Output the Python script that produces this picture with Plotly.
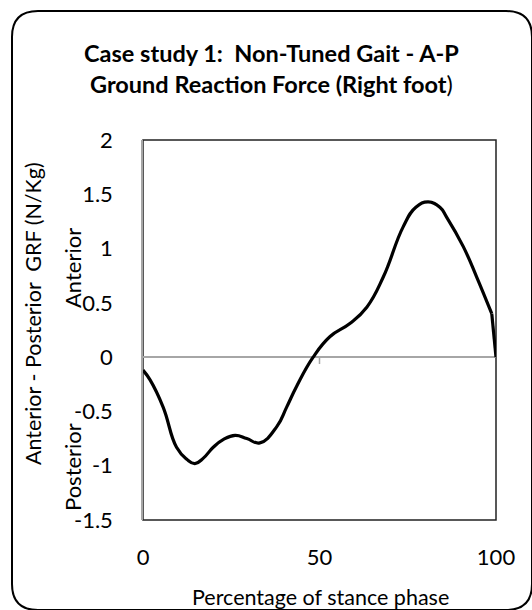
import plotly.graph_objects as go

# Data
stance_pct = [0, 2.0, 5.7, 9.5, 12.4, 14.7, 17.1, 19.9, 22.7, 26.1, 29.4, 33.1, 37.9,
              40.7, 43.5, 48.2, 53.0, 58.6, 63.4, 68.1, 73.7, 77.3, 80.8, 84.1, 86.0,
              90.7, 94.5, 98.8, 100]
grf = [-0.12, -0.21, -0.46, -0.83, -0.94, -0.98, -0.93, -0.83, -0.76, -0.72, -0.75, -0.79, -0.64,
       -0.46, -0.27, 0.0, 0.19, 0.31, 0.46, 0.74, 1.20, 1.38, 1.43, 1.38, 1.29,
       1.02, 0.74, 0.40, 0.0]
y_ticks = [-1.5, -1, -0.5, 0, 0.5, 1, 1.5, 2]
y_tick_text = ["-1.5", "-1", "-0.5", "0", "0.5", "1", "1.5", "2"]
x_ticks = [0, 50, 100]

W, H = 532, 610
L, R, T, B = 143, 496, 140, 520
FONT = "Lato"


def px(x):
    return (x - L) / (R - L)


def py(y):
    return (B - y) / (B - T)


fig = go.Figure()
# main smooth part
fig.add_trace(go.Scatter(x=stance_pct[:-1], y=grf[:-1], mode="lines",
                         line=dict(color="black", width=3.2, shape="spline", smoothing=1.3),
                         showlegend=False, hoverinfo="x+y"))
# final sharp drop
fig.add_trace(go.Scatter(x=stance_pct[-2:], y=grf[-2:], mode="lines",
                         line=dict(color="black", width=3.2),
                         showlegend=False, hoverinfo="x+y"))

# rounded outer border
x0, x1, y0, y1, r = 12, 532, 11, 610, 26
path = (f"M {px(x0+r)},{py(y0)} L {px(x1-r)},{py(y0)} Q {px(x1)},{py(y0)} {px(x1)},{py(y0+r)} "
        f"L {px(x1)},{py(y1-r)} Q {px(x1)},{py(y1)} {px(x1-r)},{py(y1)} "
        f"L {px(x0+r)},{py(y1)} Q {px(x0)},{py(y1)} {px(x0)},{py(y1-r)} "
        f"L {px(x0)},{py(y0+r)} Q {px(x0)},{py(y0)} {px(x0+r)},{py(y0)} Z")

shapes = [
    dict(type="path", xref="paper", yref="paper", path=path,
         line=dict(color="black", width=2), layer="below"),
    dict(type="rect", xref="paper", yref="paper", x0=0, x1=1, y0=0, y1=1,
         line=dict(color="#222222", width=1.5), layer="below"),
    dict(type="line", xref="x", yref="paper", x0=50, x1=50, y0=py(357), y1=py(364),
         line=dict(color="#a6a6a6", width=1.5)),
]

annotations = [
    dict(text="<b>Case study 1:  Non-Tuned Gait - A-P</b><br><b>Ground Reaction Force (Right foot</b>)",
         xref="paper", yref="paper", x=px(271), y=py(68), showarrow=False,
         xanchor="center", yanchor="middle", align="center",
         font=dict(family=FONT, size=23.5, color="black")),
    dict(text="Anterior - Posterior  GRF (N/Kg)", xref="paper", yref="paper",
         x=px(33), y=py(314), textangle=-90, showarrow=False,
         xanchor="center", yanchor="middle", font=dict(family=FONT, size=21.5, color="black")),
    dict(text="Anterior", xref="paper", yref="paper",
         x=px(72), y=py(268), textangle=-90, showarrow=False,
         xanchor="center", yanchor="middle", font=dict(family=FONT, size=22, color="black")),
    dict(text="Posterior", xref="paper", yref="paper",
         x=px(72), y=py(467), textangle=-90, showarrow=False,
         xanchor="center", yanchor="middle", font=dict(family=FONT, size=22, color="black")),
    dict(text="Percentage of stance phase", xref="paper", yref="paper",
         x=px(320), y=py(597), showarrow=False,
         xanchor="center", yanchor="middle", font=dict(family=FONT, size=21.5, color="black")),
]

fig.update_layout(
    width=W, height=H,
    margin=dict(l=L, r=W - R, t=T, b=H - B),
    paper_bgcolor="white", plot_bgcolor="white",
    shapes=shapes, annotations=annotations,
    font=dict(family=FONT, color="black"),
    xaxis=dict(range=[0, 100], tickvals=x_ticks, showgrid=False, zeroline=False,
               showline=False, ticks="", ticklabelstandoff=22,
               tickfont=dict(family=FONT, size=22, color="black")),
    yaxis=dict(range=[-1.5, 2], tickvals=y_ticks, ticktext=y_tick_text, showgrid=False,
               zeroline=True, zerolinecolor="#a6a6a6", zerolinewidth=1.5,
               showline=True, linecolor="#a6a6a6", linewidth=1.5, ticks="",
               ticklabelstandoff=24,
               tickfont=dict(family=FONT, size=22, color="black")),
)

fig.write_html("out.html", config={"displayModeBar": False})

# remove the default page margin so the figure sits at the window's top-left corner
with open("out.html", "r", encoding="utf-8") as f:
    html = f.read()
html = html.replace("<head>", "<head><style>html,body{margin:0;padding:0;overflow:hidden;}</style>", 1)
with open("out.html", "w", encoding="utf-8") as f:
    f.write(html)
